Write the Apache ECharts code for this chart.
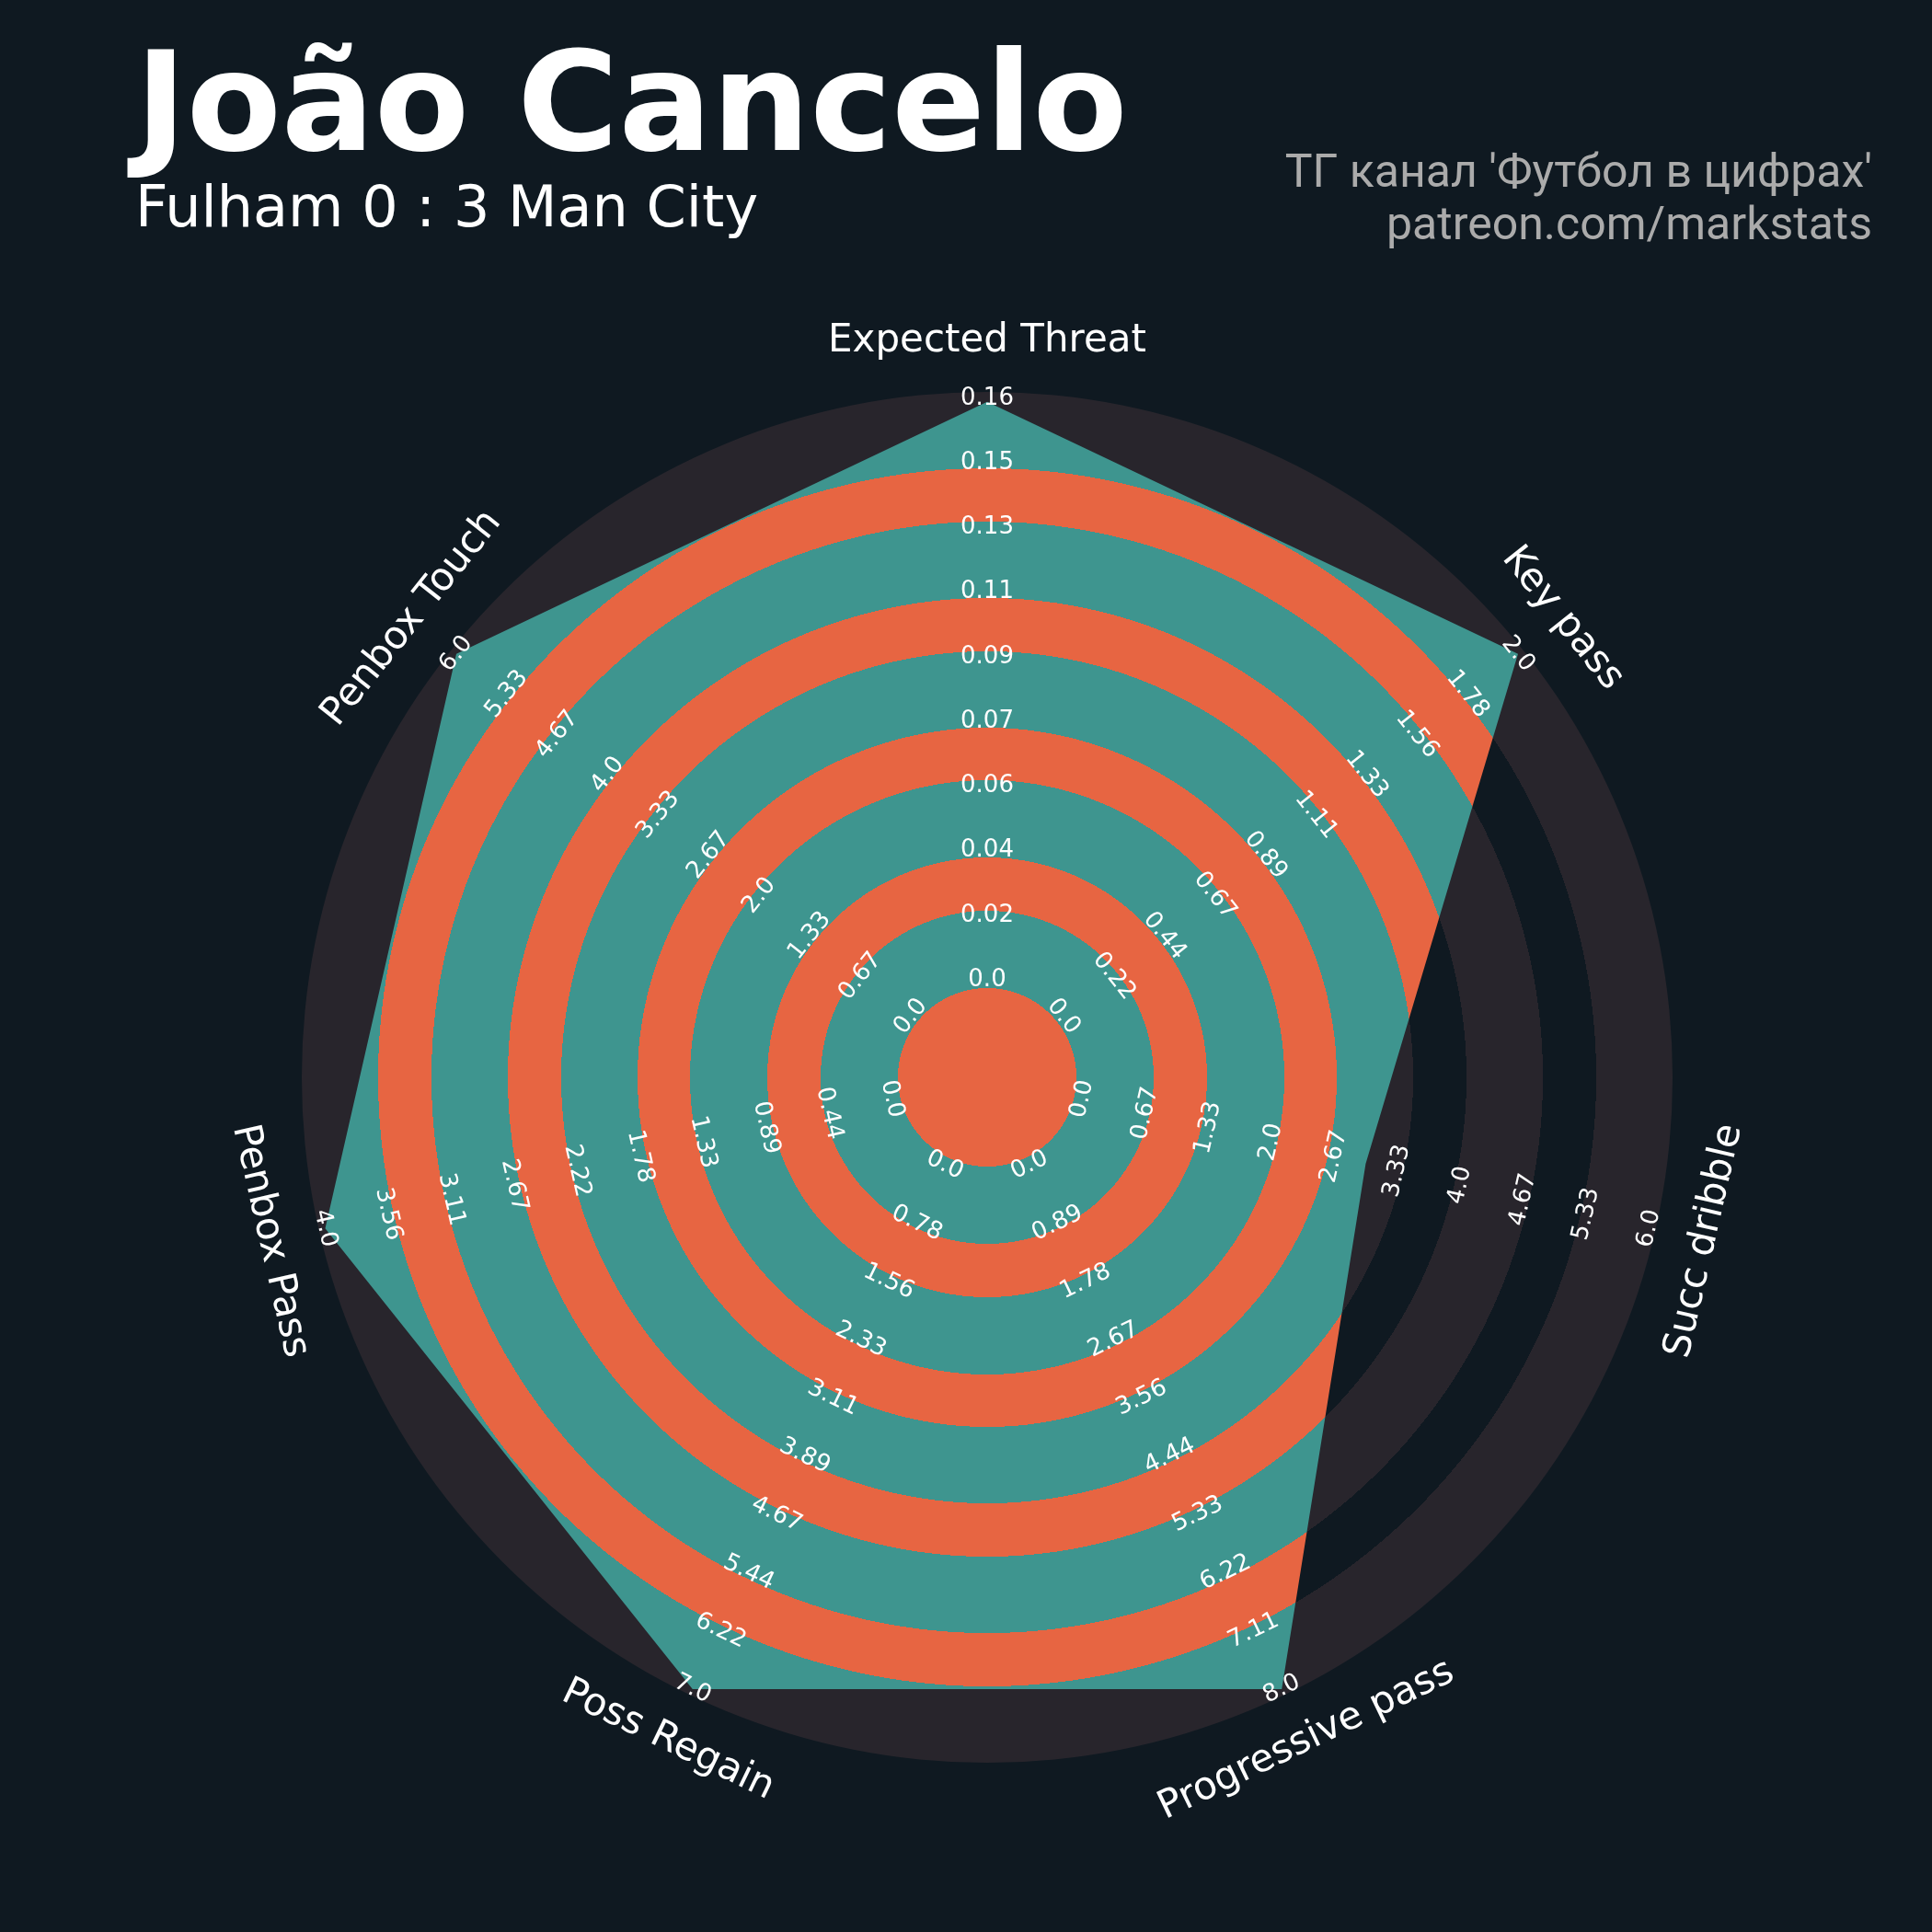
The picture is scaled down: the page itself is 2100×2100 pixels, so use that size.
<!DOCTYPE html>
<html>
<head>
<meta charset="utf-8">
<script src="https://cdn.jsdelivr.net/npm/echarts@6/dist/echarts.min.js"></script>
<style>
html,body{margin:0;padding:0;background:#0F1921;}
#chart{width:2100px;height:2100px;}
</style>
</head>
<body>
<div id="chart"></div>
<script>
// ---------------- data ----------------
const params = ['Expected Threat', 'Key pass', 'Succ dribble', 'Progressive pass', 'Poss Regain', 'Penbox Pass', 'Penbox Touch'];
const rangeMin = [0, 0, 0, 0, 0, 0, 0];
const rangeMax = [0.165, 2, 6, 8, 7, 4, 6];
const values = [0.164, 2, 3, 8, 7, 4, 6];

const ticksExpectedThreat = ['0.0', '0.02', '0.04', '0.06', '0.07', '0.09', '0.11', '0.13', '0.15', '0.16'];
const ticksKeyPass = ['0.0', '0.22', '0.44', '0.67', '0.89', '1.11', '1.33', '1.56', '1.78', '2.0'];
const ticksSuccDribble = ['0.0', '0.67', '1.33', '2.0', '2.67', '3.33', '4.0', '4.67', '5.33', '6.0'];
const ticksProgressivePass = ['0.0', '0.89', '1.78', '2.67', '3.56', '4.44', '5.33', '6.22', '7.11', '8.0'];
const ticksPossRegain = ['0.0', '0.78', '1.56', '2.33', '3.11', '3.89', '4.67', '5.44', '6.22', '7.0'];
const ticksPenboxPass = ['0.0', '0.44', '0.89', '1.33', '1.78', '2.22', '2.67', '3.11', '3.56', '4.0'];
const ticksPenboxTouch = ['0.0', '0.67', '1.33', '2.0', '2.67', '3.33', '4.0', '4.67', '5.33', '6.0'];
const tickLabels = [ticksExpectedThreat, ticksKeyPass, ticksSuccDribble, ticksProgressivePass,
                    ticksPossRegain, ticksPenboxPass, ticksPenboxTouch];

const titleText = 'João Cancelo';
const subtitleText = 'Fulham 0 : 3 Man City';
const creditLine1 = "ТГ канал 'Футбол в цифрах'";
const creditLine2 = 'patreon.com/markstats';

// ---------------- layout / style ----------------
const CX = 1073, CY = 1171;
const R_OUT = 745;              // outer edge of the ring pattern
const R_MAX = 738;              // radius of range maximum
const R_ZERO = 106;             // radius of range minimum
const BAND_EDGES = [97, 181, 239, 323, 380, 463, 521, 604, 662, 745];
const LABEL_R = 9.88;           // in tick-step units of the polar radius axis
const BG = '#0F1921', RING = '#28252C', TEAL = '#3E958F', ORANGE = '#E76542';
const FONT = 'DejaVu Sans';

function bandGradient(innerColor, outerColor) {
  const stops = [];
  let prev = 0;
  BAND_EDGES.forEach((e, k) => {
    const c = (k % 2 === 0) ? innerColor : outerColor;
    stops.push({ offset: prev / R_OUT, color: c });
    stops.push({ offset: e / R_OUT, color: c });
    prev = e;
  });
  return new echarts.graphic.RadialGradient(CX, CY, R_OUT, stops, true);
}

const N = params.length;
const nSteps = ticksKeyPass.length - 1;
function axisAngle(i) { return i * 360 / N; }
function tangentRotate(i) {
  let r = -i * 360 / N;
  while (r < -90) r += 180;
  return r;
}

// ECharts radar runs counter-clockwise; reference runs clockwise from top
const ccwOrder = [0].concat(params.map((_, i) => i).slice(1).reverse());

const labelData = [];
params.forEach((p, i) => {
  tickLabels[i].forEach((t, j) => {
    labelData.push({ value: [j, axisAngle(i)], name: t,
      label: { rotate: tangentRotate(i), fontSize: 26 } });
  });
  labelData.push({ value: [LABEL_R, axisAngle(i)], name: p,
    label: { rotate: tangentRotate(i), fontSize: 42 } });
});

const chart = echarts.init(document.getElementById('chart'), null, { renderer: 'canvas' });
chart.setOption({
  backgroundColor: BG,
  animation: false,
  radar: {
    center: [CX, CY],
    radius: [R_ZERO, R_MAX],
    startAngle: 90,
    shape: 'circle',
    splitNumber: 1,
    indicator: ccwOrder.map(i => ({ name: params[i], min: rangeMin[i], max: rangeMax[i] })),
    axisName: { show: false },
    axisLine: { show: false },
    axisTick: { show: false },
    axisLabel: { show: false },
    splitLine: { show: false },
    splitArea: { show: false }
  },
  polar: { center: [CX, CY], radius: [R_ZERO, R_MAX] },
  angleAxis: { type: 'value', min: 0, max: 360, startAngle: 90, clockwise: true, show: false },
  radiusAxis: { type: 'value', min: 0, max: nSteps, show: false },
  series: [
    {
      type: 'pie',
      silent: true,
      z: 1,
      center: [CX, CY],
      radius: [0, R_OUT],
      label: { show: false },
      labelLine: { show: false },
      itemStyle: { color: bandGradient(BG, RING), borderWidth: 0 },
      emphasis: { disabled: true },
      data: [{ value: 1, name: 'rings' }]
    },
    {
      type: 'radar',
      silent: true,
      symbol: 'none',
      z: 2,
      lineStyle: { width: 0 },
      areaStyle: { color: bandGradient(ORANGE, TEAL), opacity: 1 },
      data: [{ value: ccwOrder.map(i => values[i]) }]
    },
    {
      type: 'scatter',
      coordinateSystem: 'polar',
      silent: true,
      clip: false,
      z: 10,
      symbol: 'circle',
      symbolSize: 1,
      itemStyle: { color: 'rgba(0,0,0,0)' },
      emphasis: { disabled: true },
      label: {
        show: true,
        position: 'inside',
        formatter: p => p.name,
        color: '#FFFFFF',
        opacity: 1,
        textBorderWidth: 0,
        textShadowBlur: 0,
        fontFamily: FONT,
        align: 'center',
        verticalAlign: 'middle'
      },
      data: labelData
    }
  ],
  graphic: [
    { type: 'text', left: 147, top: 49, z: 20,
      style: { text: titleText, fill: '#FFFFFF', font: 'bold 150px "DejaVu Sans"' } },
    { type: 'text', left: 147, top: 199, z: 20,
      style: { text: subtitleText, fill: '#FFFFFF', font: '62px "DejaVu Sans"' } },
    { type: 'text', right: 65, top: 165, z: 20,
      style: { text: creditLine1, fill: '#ABABAB', font: '50px Roboto' } },
    { type: 'text', right: 65, top: 222, z: 20,
      style: { text: creditLine2, fill: '#ABABAB', font: '50px Roboto' } }
  ]
});
</script>
</body>
</html>
